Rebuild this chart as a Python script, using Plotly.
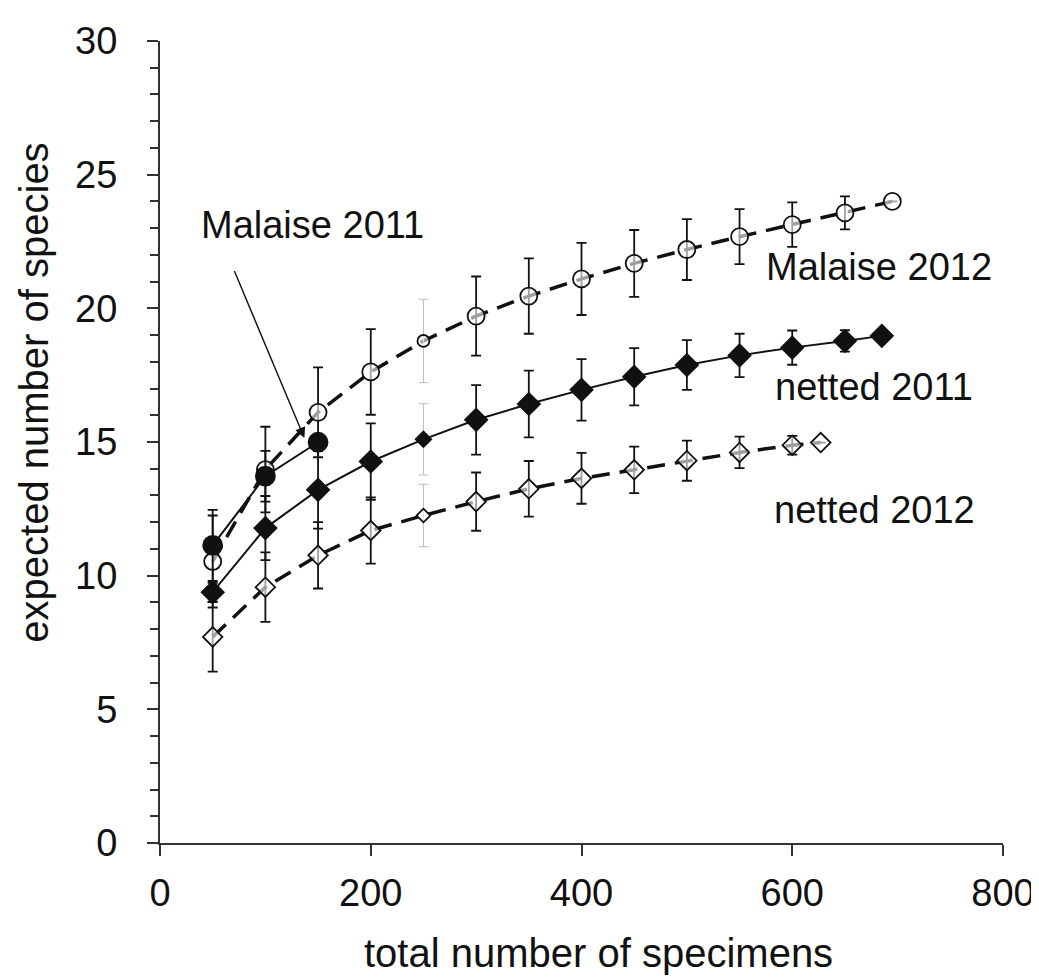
import plotly.graph_objects as go

# ---- data ----
x_m11 = [50, 100, 150]
y_m11 = [11.13, 13.72, 14.99]
e_m11 = [1.33, 0.95, 0.0]

x_m12 = [50, 100, 150, 200, 250, 300, 350, 400, 450, 500, 550, 600, 650, 695]
y_m12 = [10.53, 13.97, 16.11, 17.62, 18.78, 19.71, 20.46, 21.10, 21.68, 22.20, 22.68, 23.13, 23.57, 24.0]
e_m12 = [1.72, 1.6, 1.68, 1.6, 1.56, 1.48, 1.41, 1.35, 1.25, 1.14, 1.03, 0.83, 0.62, 0.0]

x_n11 = [50, 100, 150, 200, 250, 300, 350, 400, 450, 500, 550, 600, 650, 685]
y_n11 = [9.38, 11.78, 13.21, 14.27, 15.10, 15.83, 16.42, 16.95, 17.44, 17.88, 18.24, 18.53, 18.78, 18.97]
e_n11 = [0.35, 1.2, 1.45, 1.43, 1.33, 1.3, 1.25, 1.15, 1.07, 0.93, 0.81, 0.64, 0.4, 0.0]

x_n12 = [50, 100, 150, 200, 250, 300, 350, 400, 450, 500, 550, 600, 627]
y_n12 = [7.71, 9.57, 10.76, 11.69, 12.25, 12.77, 13.25, 13.64, 13.96, 14.30, 14.61, 14.88, 14.98]
e_n12 = [1.3, 1.3, 1.24, 1.24, 1.17, 1.09, 1.04, 0.95, 0.87, 0.75, 0.59, 0.35, 0.0]

x_ticks = [0, 200, 400, 600, 800]
y_ticks = [0, 5, 10, 15, 20, 25, 30]

FONT = "Liberation Sans, Arial, sans-serif"
BLACK = "#111111"
GREY_X = 250  # the column whose error bars are drawn faint

fig = go.Figure()


def add_series(xs, ys, es, dash, symbol, size, fill, width):
    main = [(x, y, e) for x, y, e in zip(xs, ys, es) if x != GREY_X]
    faint = [(x, y, e) for x, y, e in zip(xs, ys, es) if x == GREY_X]
    fig.add_trace(go.Scatter(x=xs, y=ys, mode="lines",
                             line=dict(color=BLACK, width=width, dash=dash),
                             showlegend=False, hoverinfo="skip"))
    fig.add_trace(go.Scatter(x=[p[0] for p in main], y=[p[1] for p in main], mode="markers",
                             marker=dict(size=0.1, color="rgba(0,0,0,0)"),
                             error_y=dict(type="data", array=[p[2] for p in main], visible=True,
                                          color=BLACK, thickness=1.8, width=5),
                             showlegend=False, hoverinfo="skip"))
    if faint:
        fig.add_trace(go.Scatter(x=[p[0] for p in faint], y=[p[1] for p in faint], mode="markers",
                                 marker=dict(size=0.1, color="rgba(0,0,0,0)"),
                                 error_y=dict(type="data", array=[p[2] for p in faint], visible=True,
                                              color="#bdbdbd", thickness=1, width=5),
                                 showlegend=False, hoverinfo="skip"))
    sizes = [size * 0.7 if x == GREY_X else size for x in xs]
    fig.add_trace(go.Scatter(x=xs, y=ys, mode="markers",
                             marker=dict(symbol=symbol, size=sizes, color=fill, opacity=1,
                                         line=dict(color=BLACK, width=1.8)),
                             showlegend=False, hoverinfo="skip"))


DASH = "18px,10px"
add_series(x_n12, y_n12, e_n12, DASH, "diamond", 15, "rgba(255,255,255,0.6)", 3.5)
add_series(x_n11, y_n11, e_n11, "solid", "diamond", 17, BLACK, 2)
add_series(x_m12, y_m12, e_m12, DASH, "circle", 17, "rgba(255,255,255,0.6)", 3.5)
add_series(x_m11, y_m11, e_m11, "solid", "circle", 19, BLACK, 2)

AFONT = dict(size=38, color=BLACK, family=FONT)
fig.add_annotation(x=682, y=21.55, text="Malaise 2012", showarrow=False, font=AFONT)
fig.add_annotation(x=678, y=17.05, text="netted 2011", showarrow=False, font=AFONT)
fig.add_annotation(x=678, y=12.45, text="netted 2012", showarrow=False, font=AFONT)
fig.add_annotation(x=137, y=15.15, ax=70, ay=21.45, xref="x", yref="y", axref="x", ayref="y",
                   text="", showarrow=True, arrowhead=2, arrowsize=1.5, arrowwidth=1.4,
                   arrowcolor=BLACK)
fig.add_annotation(x=145, y=23.1, text="Malaise 2011", showarrow=False, font=AFONT)

# axis titles
fig.add_annotation(xref="paper", yref="paper", x=0.52, y=-0.137, xanchor="center", yanchor="middle",
                   text="total number of specimens",
                   showarrow=False, font=dict(size=40, color=BLACK, family=FONT))
fig.add_annotation(xref="paper", yref="paper", x=-0.149, y=0.562, xanchor="center", yanchor="middle",
                   text="expected number of species",
                   textangle=-90, showarrow=False, font=dict(size=40, color=BLACK, family=FONT))

fig.update_layout(
    width=1039, height=977,
    margin=dict(l=152, r=35, t=31, b=142),
    paper_bgcolor="white", plot_bgcolor="white",
    font=dict(family=FONT, color=BLACK),
)
fig.update_xaxes(range=[0, 800], tickvals=x_ticks, ticktext=[str(v) for v in x_ticks],
                 showgrid=False, zeroline=False, showline=True, linecolor="#333333", linewidth=2,
                 ticks="outside", ticklen=11, tickwidth=1.5, tickcolor="#333333",
                 tickfont=dict(size=38, family=FONT, color=BLACK), ticklabelstandoff=4)
fig.update_yaxes(range=[0, 30], tickvals=y_ticks, ticktext=[str(v) for v in y_ticks],
                 showgrid=False, zeroline=False, showline=True, linecolor="#333333", linewidth=2,
                 ticks="outside", ticklen=11, tickwidth=1.5, tickcolor="#333333",
                 minor=dict(dtick=1, ticks="outside", ticklen=8, tickwidth=1.5, tickcolor="#333333"),
                 tickfont=dict(size=38, family=FONT, color=BLACK), ticklabelstandoff=22)

fig.write_html("out.html")
